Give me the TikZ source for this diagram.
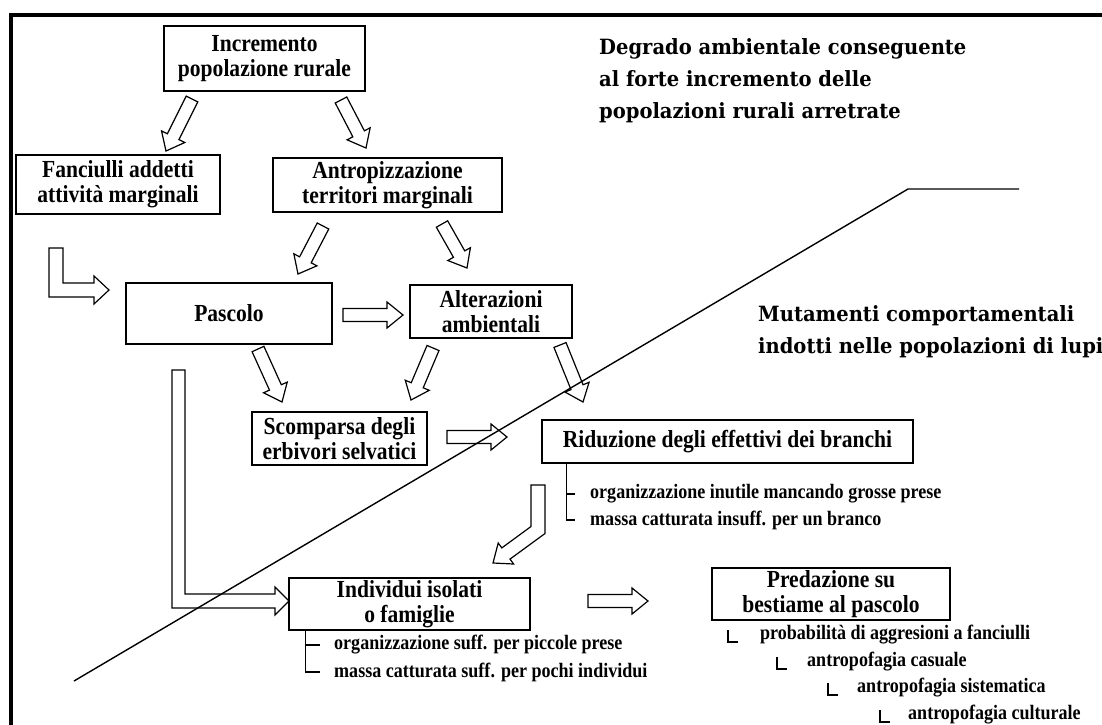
\documentclass[tikz,border=0pt]{standalone}
\usepackage{fontspec}
\setmainfont{Liberation Serif}
\newfontfamily\boxfont[FakeStretch=0.88]{Liberation Serif}
\newfontfamily\headfont[FakeStretch=0.93]{DejaVu Serif}
\usetikzlibrary{calc}

% hollow block arrow from #1 (tail) to #2 (tip)
\newcommand{\fatarrow}[2]{%
  \coordinate (hb) at ($(#2)!16pt!(#1)$);
  \draw[hollow] ($(#1)!6.5pt!90:(#2)$) -- ($(hb)!6.5pt!90:(#2)$) -- ($(hb)!13pt!90:(#2)$) -- (#2)
    -- ($(hb)!13pt!-90:(#2)$) -- ($(hb)!6.5pt!-90:(#2)$) -- ($(#1)!6.5pt!-90:(#2)$) -- cycle;
}

\begin{document}
\begin{tikzpicture}[x=1pt,y=-1pt,
  box/.style={draw,line width=1.5pt,align=center,inner sep=0pt,font=\boxfont\bfseries\fontsize{24.5}{25}\selectfont},
  note/.style={anchor=west,inner sep=0pt,font=\boxfont\bfseries\fontsize{20.5}{22}\selectfont},
  heading/.style={anchor=north west,align=left,inner sep=0pt,font=\headfont\bfseries\fontsize{21}{32}\selectfont},
  hollow/.style={draw,line width=1.2pt,fill=white,line join=miter},
  tick/.style={line width=1.3pt}]
  \path[fill=white] (0,0) rectangle (1102,724);
  \useasboundingbox (0,0) rectangle (1102,724);
  \draw[line width=3.5pt] (11,730) -- (11,15) -- (1102,15);

  % boxes
  \node (incr) at (264.5,58.5) [box,minimum width=201pt,minimum height=65pt] {Incremento\\popolazione rurale};
  \node (fanc) at (118,184.5) [box,minimum width=204pt,minimum height=59pt] {Fanciulli addetti\\attività marginali};
  \node (antr) at (387.5,185) [box,minimum width=229pt,minimum height=54pt] {Antropizzazione\\territori marginali};
  \node (pasc) at (229,313.5) [box,minimum width=206pt,minimum height=61pt] {Pascolo};
  \node (alter) at (491,311.5) [box,minimum width=162pt,minimum height=53pt] {Alterazioni\\ambientali};
  \node (scomp) at (339.5,438.5) [box,minimum width=175pt,minimum height=53pt] {Scomparsa degli\\erbivori selvatici};
  \node (ridu) at (727.5,441.5) [box,minimum width=371pt,minimum height=43pt] {Riduzione degli effettivi dei branchi};
  \node (indiv) at (409.5,604) [box,minimum width=241pt,minimum height=52pt] {Individui isolati\\o famiglie};
  \node (preda) at (831,594) [box,minimum width=238pt,minimum height=52pt] {Predazione su\\bestiame al pascolo};

  % headings
  \node (title) at (599,38) [heading] {Degrado ambientale conseguente\\al forte incremento delle\\popolazioni rurali arretrate};
  \node (wolves) at (758,305) [heading] {Mutamenti comportamentali\\indotti nelle popolazioni di lupi};

  % lists
  \node (ridu-a) at (590,494) [note] {organizzazione inutile mancando grosse prese};
  \node (ridu-b) at (590,520) [note] {massa catturata insuff. per un branco};
  \node (indiv-a) at (334,645) [note] {organizzazione suff. per piccole prese};
  \node (indiv-b) at (334,672) [note] {massa catturata suff. per pochi individui};
  \node (preda-a) at (760,635) [note] {probabilità di aggresioni a fanciulli};
  \node (preda-b) at (807,662) [note] {antropofagia casuale};
  \node (preda-c) at (857,688) [note] {antropofagia sistematica};
  \node (preda-d) at (908,715) [note] {antropofagia culturale};

  \draw[tick] ([xshift=25pt]ridu.south west) coordinate (rb) -- (rb |- ridu-b.west) -- ++(9,0);
  \draw[tick] (rb |- ridu-a.west) -- ++(9,0);
  \draw[tick] ([xshift=17pt]indiv.south west) coordinate (ib) -- (ib |- indiv-b.west) -- ++(15,0);
  \draw[tick] (ib |- indiv-a.west) -- ++(15,0);
  \draw[tick] ([shift={(-32pt,5pt)}]preda-a.west) |- ++(10,12);
  \draw[tick] ([shift={(-30pt,5pt)}]preda-b.west) |- ++(10,12);
  \draw[tick] ([shift={(-29pt,5pt)}]preda-c.west) |- ++(10,12);
  \draw[tick] ([shift={(-28pt,5pt)}]preda-d.west) |- ++(10,12);

  % block arrows
  \coordinate (a1s) at (192,99);  \coordinate (a1e) at (166,151);
  \coordinate (a2s) at (341,100); \coordinate (a2e) at (366,148);
  \coordinate (a3s) at (323,226); \coordinate (a3e) at (298,274);
  \coordinate (a4s) at (442,224); \coordinate (a4e) at (467,268);
  \coordinate (a5s) at (343,315); \coordinate (a5e) at (403,315);
  \coordinate (a6s) at (258,349); \coordinate (a6e) at (282,402);
  \coordinate (a7s) at (433,348); \coordinate (a7e) at (411,400);
  \coordinate (a8s) at (560,345); \coordinate (a8e) at (583,402);
  \coordinate (a9s) at (447,437); \coordinate (a9e) at (507,437);
  \coordinate (a10s) at (588,601); \coordinate (a10e) at (648,601);
  \fatarrow{a1s}{a1e}
  \fatarrow{a2s}{a2e}
  \fatarrow{a3s}{a3e}
  \fatarrow{a4s}{a4e}
  \fatarrow{a5s}{a5e}
  \fatarrow{a6s}{a6e}
  \fatarrow{a7s}{a7e}
  \fatarrow{a8s}{a8e}
  \fatarrow{a9s}{a9e}
  \fatarrow{a10s}{a10e}

  % bent arrows
  \draw[hollow] (49,248) -- (63,248) -- (63,283) -- (94,283) -- (94,276) -- (109,290)
    -- (94,304) -- (94,297) -- (49,297) -- cycle;
  \draw[hollow] (172,370) -- (185,370) -- (185,594) -- (275,594) -- (275,587) -- (289,601)
    -- (275,615) -- (275,608) -- (172,608) -- cycle;
  \draw[hollow] (531,485) -- (545,485) -- (545,533.5) -- (510,559.1) -- (513.6,564) -- (493,563)
    -- (498.2,543) -- (501.8,547.9) -- (531,526.5) -- cycle;

  % boundary line
  \draw[line width=1.4pt] (74,681) -- (908,189) -- (1019,189);
\end{tikzpicture}
\end{document}
